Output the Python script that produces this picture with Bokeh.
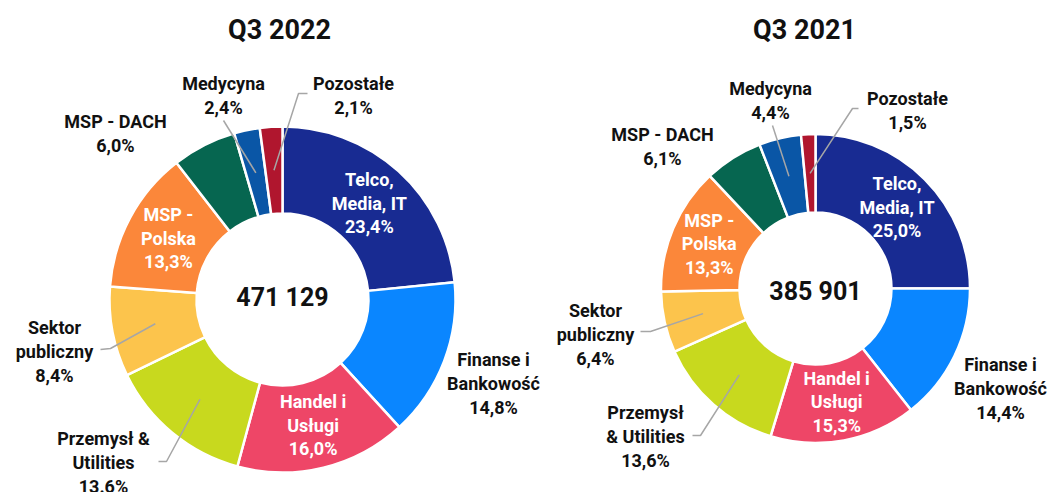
import math
from bokeh.plotting import figure
from bokeh.models import Range1d, ColumnDataSource
from bokeh.core.properties import value
from bokeh.embed import file_html
from bokeh.resources import INLINE

# ---------------- data ----------------
categories = ["Telco, Media, IT", "Finanse i Bankowość", "Handel i Usługi",
              "Przemysł & Utilities", "Sektor publiczny", "MSP - Polska",
              "MSP - DACH", "Medycyna", "Pozostałe"]
values_2022 = [23.4, 14.8, 16.0, 13.6, 8.4, 13.3, 6.0, 2.4, 2.1]
values_2021 = [25.0, 14.4, 15.3, 13.6, 6.4, 13.3, 6.1, 4.4, 1.5]
pct_2022 = ["23,4%", "14,8%", "16,0%", "13.6%", "8,4%", "13,3%", "6,0%", "2,4%", "2,1%"]
pct_2021 = ["25,0%", "14,4%", "15,3%", "13,6%", "6,4%", "13,3%", "6,1%", "4,4%", "1,5%"]
names_2022 = ["Telco,\nMedia, IT", "Finanse i\nBankowość", "Handel i\nUsługi",
              "Przemysł &\nUtilities", "Sektor\npubliczny", "MSP -\nPolska",
              "MSP - DACH", "Medycyna", "Pozostałe"]
names_2021 = ["Telco,\nMedia, IT", "Finanse i\nBankowość", "Handel i\nUsługi",
              "Przemysł\n& Utilities", "Sektor\npubliczny", "MSP -\nPolska",
              "MSP - DACH", "Medycyna", "Pozostałe"]
titles = ["Q3 2022", "Q3 2021"]
totals = ["471 129", "385 901"]
colors = ["#182b92", "#0a86ff", "#ee4667", "#c8d91e", "#fcc44c",
          "#fb873a", "#066650", "#0a56a6", "#b0162e"]

# ---------------- layout (pixel coords of the 1049x492 page) ----------------
W, H = 1049, 492
def Y(py):
    return H - py

charts = [
    dict(values=values_2022, pct=pct_2022, names=names_2022, title=titles[0], total=totals[0],
         cx=282, cy=299, r_in=86, r_out=173, title_xy=(279, 29), total_dy=-2,
         inside=[0, 2, 5],
         outside={1: (493, 383), 3: (103, 462), 4: (54, 351), 6: (115, 133),
                  7: (223, 95), 8: (353, 95)},
         leaders={3: [(166, 461), (158, 461)], 4: [(110, 348), (100, 349)],
                  7: [(223, 120)], 8: [(298, 93), (307, 93)]}),
    dict(values=values_2021, pct=pct_2021, names=names_2021, title=titles[1], total=totals[1],
         cx=815, cy=288, r_in=76, r_out=154.5, title_xy=(804, 29), total_dy=3,
         inside=[0, 2, 5],
         outside={1: (1000, 388), 3: (645, 436), 4: (595, 334), 6: (662, 146),
                  7: (770, 100), 8: (907, 110)},
         leaders={3: [(700, 435), (692, 435)], 4: [(650, 331), (640, 331)],
                  7: [(772, 125)], 8: [(852, 108), (858, 108)]}),
]

p = figure(width=W, height=H, output_backend="svg", toolbar_location=None,
           x_range=Range1d(0, W), y_range=Range1d(0, H), min_border=0)
p.axis.visible = False
p.grid.visible = False
p.outline_line_color = None
p.background_fill_color = "white"

FONT = value("Roboto")
LH = 1.12

for c in charts:
    vals = c["values"]
    total = sum(vals)
    cum = 0.0
    starts, ends, mids = [], [], []
    for v in vals:
        a0 = math.pi / 2 - 2 * math.pi * cum / total
        cum += v
        a1 = math.pi / 2 - 2 * math.pi * cum / total
        starts.append(a1)
        ends.append(a0)
        mids.append((a0 + a1) / 2)
    cx, cy = c["cx"], Y(c["cy"])
    src = ColumnDataSource(dict(start=starts, end=ends, color=colors,
                                cat=categories, val=vals))
    p.annular_wedge(x=cx, y=cy, inner_radius=c["r_in"], outer_radius=c["r_out"],
                    start_angle="start", end_angle="end", fill_color="color",
                    line_color="white", line_width=2.5, source=src)

    r_mid = (c["r_in"] + c["r_out"]) / 2

    # leader lines
    xs, ys = [], []
    for i, pts in c["leaders"].items():
        lx = [cx + r_mid * math.cos(mids[i])] + [pt[0] for pt in pts]
        ly = [cy + r_mid * math.sin(mids[i])] + [Y(pt[1]) for pt in pts]
        xs.append(lx)
        ys.append(ly)
    p.multi_line(xs=xs, ys=ys, line_color="#a6a6a6", line_width=1.5)

    # inside labels
    ix = [cx + r_mid * math.cos(mids[i]) for i in c["inside"]]
    iy = [cy + r_mid * math.sin(mids[i]) for i in c["inside"]]
    it = [c["names"][i] + "\n" + c["pct"][i] for i in c["inside"]]
    p.text(x=ix, y=iy, text=it, text_color="white", text_font=FONT,
           text_font_style="bold", text_font_size="18px", text_align="center",
           text_baseline="middle", text_line_height=LH)

    # outside labels
    ox = [pt[0] for pt in c["outside"].values()]
    oy = [Y(pt[1]) for pt in c["outside"].values()]
    ot = [c["names"][i] + "\n" + c["pct"][i] for i in c["outside"].keys()]
    p.text(x=ox, y=oy, text=ot, text_color="#111111", text_font=FONT,
           text_font_style="bold", text_font_size="18px", text_align="center",
           text_baseline="middle", text_line_height=LH)

    # total in the hole
    p.text(x=[cx], y=[cy - c["total_dy"]], text=[c["total"]], text_color="#111111",
           text_font=FONT, text_font_style="bold", text_font_size="25px",
           text_align="center", text_baseline="middle")

    # title
    p.text(x=[c["title_xy"][0]], y=[Y(c["title_xy"][1])], text=[c["title"]],
           text_color="#111111", text_font=FONT, text_font_style="bold",
           text_font_size="27px", text_align="center", text_baseline="middle")

open("out.html", "w").write(file_html(p, INLINE))
